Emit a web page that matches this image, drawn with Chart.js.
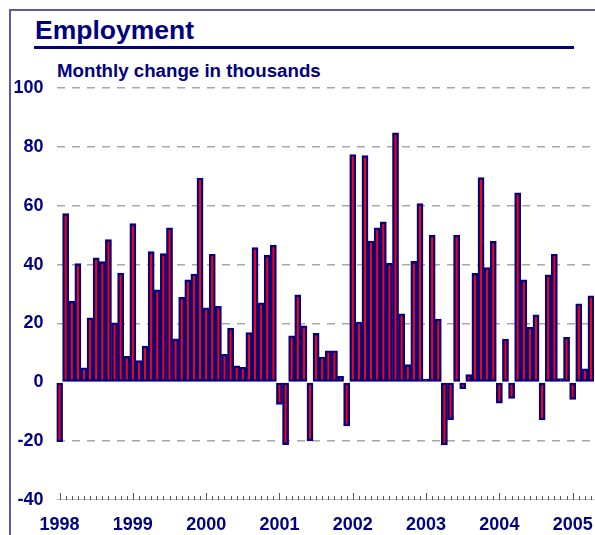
<!DOCTYPE html>
<html>
<head>
<meta charset="utf-8">
<script src="https://cdn.jsdelivr.net/npm/chart.js@4"></script>
<style>
  html, body { margin: 0; padding: 0; background: #fff; overflow: hidden; }
  body { width: 595px; height: 535px; position: relative; font-family: "Liberation Sans", Arial, sans-serif; }
  .edge-l { position: absolute; left: 9px; top: 9px; width: 2px; height: 526px; background: #5a5aaa; }
  .edge-t { position: absolute; left: 9px; top: 9px; width: 586px; height: 2px; background: #5a5aaa; }
  .title { position: absolute; left: 35px; top: 17px; font-size: 26.5px; line-height: 26px;
           font-weight: bold; color: #000080; }
  .rule { position: absolute; left: 34px; top: 46px; width: 540px; height: 3px; background: #000080; }
  .sub { position: absolute; left: 57px; top: 62px; font-size: 18.7px; line-height: 18px;
         font-weight: bold; color: #000080; }
  #wrap { position: absolute; left: 0; top: 0; width: 597px; height: 535px; }
</style>
</head>
<body>
<div class="edge-l"></div>
<div class="edge-t"></div>
<div class="title">Employment</div>
<div class="rule"></div>
<div class="sub">Monthly change in thousands</div>
<div id="wrap"><canvas id="chart"></canvas></div>
<script>
// monthly change in employment, thousands
const years = ["1998", "1999", "2000", "2001", "2002", "2003", "2004", "2005"];
const v1998 = [-20.2, 57.3, 27.6, 40.3, 4.9, 21.9, 42.3, 41.0, 48.5, 20.2, 37.1, 8.8];
const v1999 = [53.9, 7.4, 12.3, 44.4, 31.4, 43.7, 52.5, 14.8, 28.9, 34.8, 36.8, 69.4];
const v2000 = [25.3, 43.5, 25.8, 9.5, 18.4, 5.6, 5.1, 16.9, 45.8, 27.0, 43.2, 46.6];
const v2001 = [-7.5, -21.2, 15.8, 29.7, 19.2, -19.9, 16.6, 8.6, 10.7, 10.7, 2.0, -14.8];
const v2002 = [77.4, 20.5, 77.0, 48.0, 52.5, 54.5, 40.4, 84.8, 23.3, 6.0, 41.1, 60.7];
const v2003 = [1.1, 50.0, 21.5, -21.3, -12.7, 50.0, -2.2, 2.6, 37.0, 69.6, 39.0, 47.9];
const v2004 = [-7.1, 14.7, -5.5, 64.4, 34.8, 18.7, 22.9, -12.8, 36.5, 43.5, 1.3, 15.3];
const v2005 = [-5.8, 26.7, 4.6, 29.4];
const yTicks = [-40, -20, 0, 20, 40, 60, 80, 100];

const values = [].concat(v1998, v1999, v2000, v2001, v2002, v2003, v2004, v2005);
const labels = values.map((_, i) => years[Math.floor(i / 12)] + "-" + String(i % 12 + 1).padStart(2, "0"));

const navy = "#000080";
const font = { family: "'Liberation Sans', Arial, sans-serif", size: 18, weight: "bold" };

// small month ticks standing up from the bottom of the plot
const monthTicks = {
    id: "monthTicks",
    afterDraw(chart) {
        const { ctx, chartArea, scales } = chart;
        const y = chartArea.bottom;
        ctx.save();
        ctx.strokeStyle = "#bbb";
        ctx.lineWidth = 1;
        ctx.beginPath();
        ctx.moveTo(chartArea.left, y - 0.5);
        ctx.lineTo(chartArea.right, y - 0.5);
        ctx.stroke();
        ctx.strokeStyle = "#555";
        ctx.beginPath();
        labels.forEach((_, i) => {
            const px = Math.round(scales.x.getPixelForValue(i)) + 0.5;
            const len = i % 12 === 0 ? 7 : 4;
            ctx.moveTo(px, y);
            ctx.lineTo(px, y - len);
        });
        ctx.stroke();
        ctx.restore();
    },
};

new Chart(document.getElementById("chart"), {
    type: "bar",
    data: {
        labels: labels,
        datasets: [{
            data: values,
            backgroundColor: "#ff0000",
            borderColor: navy,
            borderWidth: 2.4,
            borderSkipped: false,
            barPercentage: 1,
            categoryPercentage: 1,
        }],
    },
    options: {
        responsive: true,
        maintainAspectRatio: false,
        animation: false,
        layout: { padding: { top: 88, left: 0, right: 0, bottom: 0 } },
        plugins: { legend: { display: false }, tooltip: { enabled: false } },
        scales: {
            x: {
                grid: { display: false },
                border: { display: false },
                afterFit: (s) => { s.height = 35; },
                ticks: {
                    autoSkip: false,
                    maxRotation: 0,
                    padding: 6,
                    color: navy,
                    font: font,
                    callback: (v, i) => (i % 12 === 0 ? years[i / 12] : ""),
                },
            },
            y: {
                min: yTicks[0],
                max: yTicks[yTicks.length - 1],
                afterFit: (s) => { s.width = 56.5; },
                afterBuildTicks: (s) => { s.ticks = yTicks.map((v) => ({ value: v })); },
                border: { display: false, dash: [8, 7] },
                grid: {
                    drawTicks: false,
                    lineWidth: 1.5,
                    color: (c) => (c.tick && (c.tick.value === 0 || c.tick.value === -40) ? "rgba(0,0,0,0)" : "#a8a8a8"),
                },
                ticks: { padding: 13, color: navy, font: font },
            },
        },
    },
    plugins: [monthTicks],
});
</script>
</body>
</html>
